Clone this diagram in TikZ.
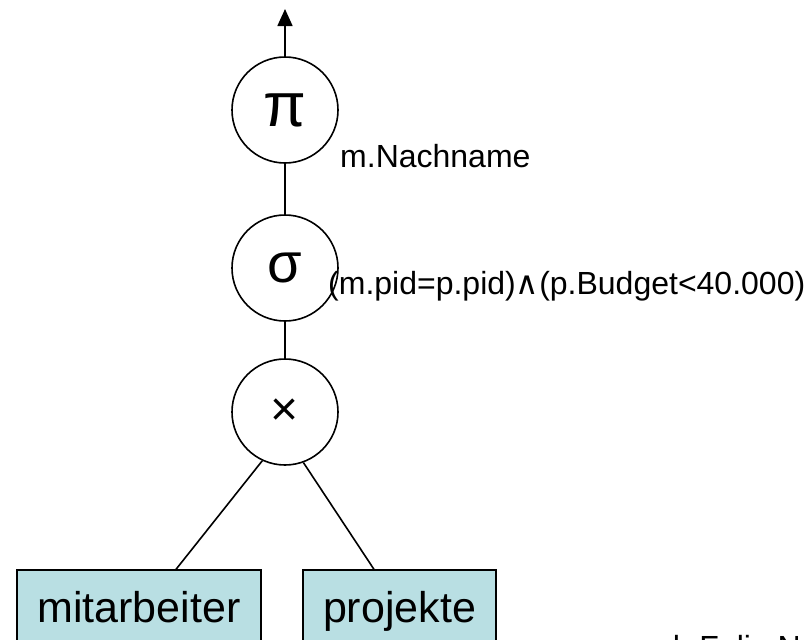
\documentclass[tikz,border=0pt]{standalone}
\usepackage{fontspec}
\setmainfont{Liberation Sans}
\newfontfamily\symfont{DejaVu Sans}
\usetikzlibrary{arrows.meta,calc}
\begin{document}
\begin{tikzpicture}[x=1pt,y=-1pt,
  opnode/.style={draw,circle,line width=1.6pt,minimum size=106pt,inner sep=0pt},
  relbox/.style={draw,line width=1.3pt,fill=boxblue,anchor=base,inner xsep=0pt,inner ysep=0pt,text height=52pt,text depth=38pt,font=\fontsize{43}{43}\selectfont},
  cond/.style={anchor=base west,inner sep=0pt,font=\fontsize{32}{32}\selectfont},
  edge/.style={line width=1.6pt}]
\definecolor{boxblue}{HTML}{B9DFE3}
\useasboundingbox (0,0) rectangle (812,640);
\clip (0,0) rectangle (812,640);
\node[opnode,font=\fontsize{62}{62}\selectfont] (pi) at (285,110) {π};
\node[opnode,font=\fontsize{56}{56}\selectfont] (sigma) at (285,268) {σ};
\node[opnode,font=\fontsize{48}{48}\selectfont] (cross) at (285,412) {×};
\node[relbox,minimum width=244pt] (mit) at (139,622) {mitarbeiter};
\node[relbox,minimum width=193pt] (pro) at (399.5,622) {projekte};
\coordinate (out) at (285,9);
\draw[edge,-{Triangle[width=15pt,length=17pt]}] (pi.north) -- (out);
\draw[edge] (pi.south) -- (sigma.north);
\draw[edge] (sigma.south) -- (cross.north);
\draw[edge] (cross.245) -- ($(mit.north)+(37,0)$);
\draw[edge] (cross.290) -- ($(pro.north)+(-25.5,0)$);
\node[cond] (proj) at (340,167) {m.Nachname};
\node[cond] (sel) at (328,294) {(m.pid=p.pid){\symfont ∧}(p.Budget<40.000)};
\node[cond] (src) at (621,658) {nach Folie N};
\end{tikzpicture}
\end{document}
